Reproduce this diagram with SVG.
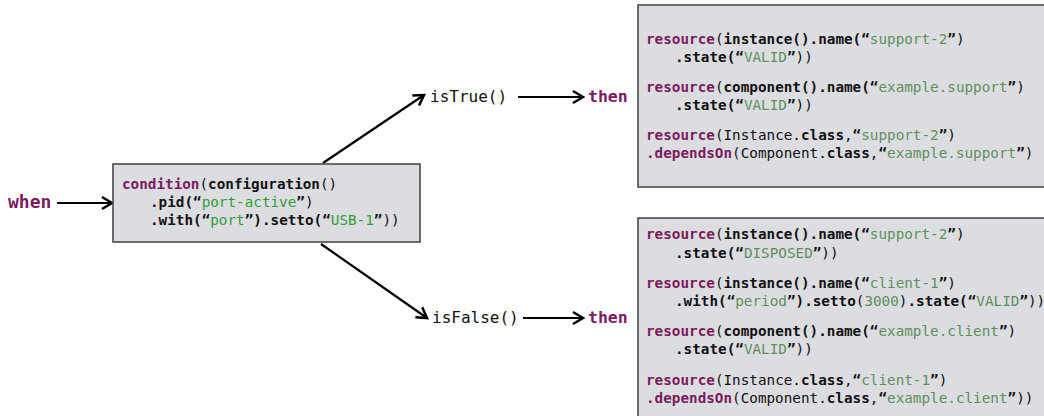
<svg xmlns="http://www.w3.org/2000/svg" width="1044" height="416" viewBox="0 0 1044 416">
<style>
text{font-family:"DejaVu Sans Mono","Liberation Mono",monospace;fill:#111;white-space:pre}
.code{font-size:14.3px}
.k{fill:#7b1b5e;font-weight:bold}
.b{font-weight:bold}
.s{fill:#5f8f5f}
.g{fill:#2e9e3a}
.box{fill:#dcdde0;stroke:#4a4a4a;stroke-width:1.6}
.lbl{font-size:16px}
.kw{font-size:16.5px;font-weight:bold;fill:#7b1b5e}
.conn{stroke:#000;stroke-width:2.2;fill:none;marker-end:url(#arr)}
</style>
<defs>
<marker id="arr" markerUnits="userSpaceOnUse" markerWidth="16" markerHeight="16" viewBox="0 0 16 16" refX="13" refY="8" orient="auto">
<path d="M3,2 L13,8 L3,14" fill="none" stroke="#000" stroke-width="2.5"/>
</marker>
</defs>
<g id="connectors">
<line class="conn" x1="57" y1="203" x2="112" y2="203"/>
<line class="conn" x1="323" y1="163" x2="424" y2="95"/>
<line class="conn" x1="518" y1="97" x2="583" y2="97"/>
<line class="conn" x1="321" y1="244" x2="427" y2="318"/>
<line class="conn" x1="523" y1="318" x2="583" y2="318"/>
</g>
<g id="when"><text class="kw" x="8" y="208" style="font-size:18px">when</text></g>
<g id="condition">
<rect class="box" x="113" y="164" width="307" height="78"/>
<text class="code" x="122" y="189"><tspan class="k">condition</tspan>(<tspan class="b">configuration</tspan>()</text>
<text class="code" x="150" y="207"><tspan class="b">.pid(“</tspan><tspan class="g">port-active</tspan><tspan class="b">”</tspan>)</text>
<text class="code" x="150" y="225"><tspan class="b">.with(“</tspan><tspan class="g">port</tspan><tspan class="b">”).setto(“</tspan><tspan class="g">USB-1</tspan><tspan class="b">”</tspan>))</text>
</g>
<g id="isTrue"><text class="lbl" x="430" y="102">isTrue()</text></g>
<g id="isFalse"><text class="lbl" x="432" y="323">isFalse()</text></g>
<g id="then-true"><text class="kw" x="588" y="102">then</text></g>
<g id="then-false"><text class="kw" x="588" y="323">then</text></g>
<g id="true-actions">
<rect class="box" x="638" y="5" width="420" height="182"/>
<text class="code" x="646" y="44"><tspan class="k">resource</tspan>(<tspan class="b">instance().name(“</tspan><tspan class="s">support-2</tspan><tspan class="b">”</tspan>)</text>
<text class="code" x="675" y="62"><tspan class="b">.state(“</tspan><tspan class="s">VALID</tspan><tspan class="b">”</tspan>))</text>
<text class="code" x="646" y="92"><tspan class="k">resource</tspan>(<tspan class="b">component().name(“</tspan><tspan class="s">example.support</tspan><tspan class="b">”</tspan>)</text>
<text class="code" x="675" y="110"><tspan class="b">.state(“</tspan><tspan class="s">VALID</tspan><tspan class="b">”</tspan>))</text>
<text class="code" x="646" y="140"><tspan class="k">resource</tspan>(Instance.<tspan class="b">class</tspan>,<tspan class="b">“</tspan><tspan class="s">support-2</tspan><tspan class="b">”</tspan>)</text>
<text class="code" x="646" y="158"><tspan class="k">.dependsOn</tspan>(Component.<tspan class="b">class</tspan>,<tspan class="b">“</tspan><tspan class="s">example.support</tspan><tspan class="b">”</tspan>)</text>
</g>
<g id="false-actions">
<rect class="box" x="638" y="218" width="420" height="210"/>
<text class="code" x="646" y="239"><tspan class="k">resource</tspan>(<tspan class="b">instance().name(“</tspan><tspan class="s">support-2</tspan><tspan class="b">”</tspan>)</text>
<text class="code" x="675" y="258"><tspan class="b">.state(“</tspan><tspan class="s">DISPOSED</tspan><tspan class="b">”</tspan>))</text>
<text class="code" x="646" y="288"><tspan class="k">resource</tspan>(<tspan class="b">instance().name(“</tspan><tspan class="s">client-1</tspan><tspan class="b">”</tspan>)</text>
<text class="code" x="675" y="306"><tspan class="b">.with(“</tspan><tspan class="s">period</tspan><tspan class="b">”).setto</tspan>(<tspan class="s">3000</tspan>)<tspan class="b">.state(“</tspan><tspan class="s">VALID</tspan><tspan class="b">”</tspan>))</text>
<text class="code" x="646" y="336"><tspan class="k">resource</tspan>(<tspan class="b">component().name(“</tspan><tspan class="s">example.client</tspan><tspan class="b">”</tspan>)</text>
<text class="code" x="675" y="354"><tspan class="b">.state(“</tspan><tspan class="s">VALID</tspan><tspan class="b">”</tspan>))</text>
<text class="code" x="646" y="385"><tspan class="k">resource</tspan>(Instance.<tspan class="b">class</tspan>,<tspan class="b">“</tspan><tspan class="s">client-1</tspan><tspan class="b">”</tspan>)</text>
<text class="code" x="646" y="403"><tspan class="k">.dependsOn</tspan>(Component.<tspan class="b">class</tspan>,<tspan class="b">“</tspan><tspan class="s">example.client</tspan><tspan class="b">”</tspan>))</text>
</g>
</svg>
